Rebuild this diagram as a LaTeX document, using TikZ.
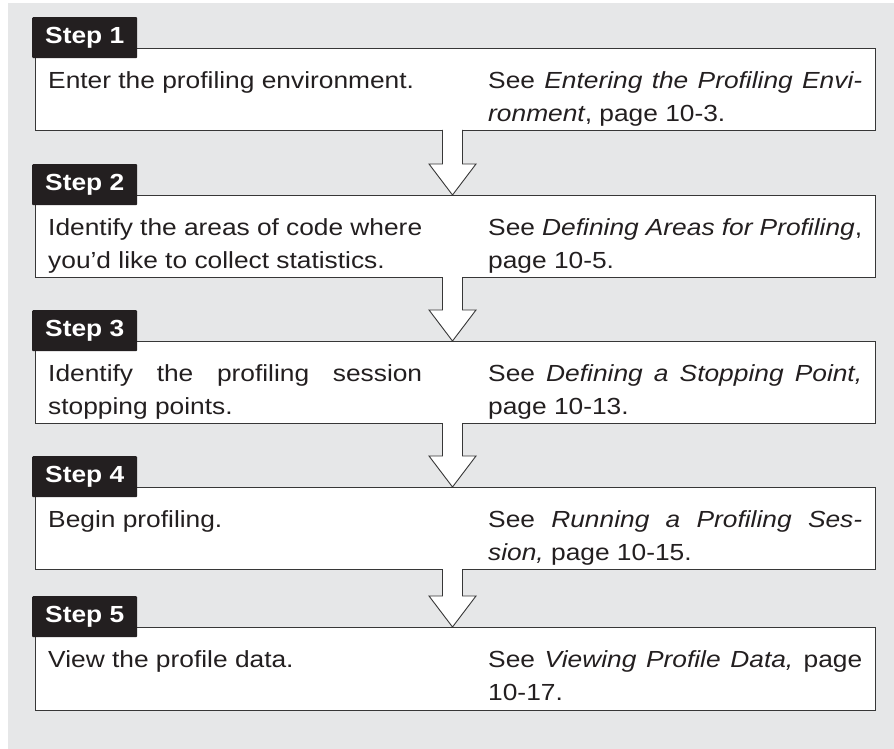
\documentclass[tikz,border=0pt]{standalone}
\usepackage{fontspec}
\setmainfont{Liberation Sans}[FakeStretch=1.13]
\usetikzlibrary{positioning,calc}

\definecolor{panelgray}{RGB}{230,231,232}
\definecolor{tabblack}{RGB}{35,31,32}
\definecolor{rulegray}{RGB}{55,55,55}

\begin{document}
\begin{tikzpicture}[
  x=1pt,y=1pt,
  font=\fontsize{23.3}{33}\selectfont,text=tabblack,
  stepbox/.style={draw=rulegray,line width=0.9pt,fill=white,minimum width=840pt,minimum height=82pt,inner sep=0pt,outer sep=0pt},
  steptab/.style={fill=tabblack,text=white,font=\fontsize{23.3}{33}\selectfont\bfseries,minimum width=105pt,minimum height=41pt,inner sep=0pt,rounded corners=1pt,anchor=north west},
  coltext/.style={anchor=north west,inner sep=0pt,
    execute at begin node={\begin{minipage}[t]{374pt}},
    execute at end node={\end{minipage}}},
  flowarr/.style={draw=rulegray,line width=0.9pt,fill=white,line join=miter},
]
\useasboundingbox (0,0) rectangle (894,-749);
\fill[panelgray] (8,-3) rectangle (894,-749);

% ===== the five step boxes =====
\node[stepbox,anchor=north west] (box1) at (35,-48) {};
\node[stepbox,below=65pt of box1] (box2) {};
\node[stepbox,below=64pt of box2] (box3) {};
\node[stepbox,below=64pt of box3] (box4) {};
\node[stepbox,below=58pt of box4,minimum height=83pt] (box5) {};

% hollow arrows between the boxes
\foreach \u/\v in {box1/box2,box2/box3,box3/box4,box4/box5}
  \draw[flowarr] let \p1=(\u.south), \p2=(\v.north) in
    (\x1-12.5pt,\y1) -- (\x1-12.5pt,\y2+31pt) -- (\x1-26pt,\y2+31pt) -- (\x1-2.5pt,\y2)
    -- (\x1+21pt,\y2+31pt) -- (\x1+7.5pt,\y2+31pt) -- (\x1+7.5pt,\y1);

% ===== step tabs =====
\node[steptab] (tab1) at ([xshift=-3pt,yshift=31pt]box1.north west) {Step 1};
\node[steptab] (tab2) at ([xshift=-3pt,yshift=31pt]box2.north west) {Step 2};
\node[steptab] (tab3) at ([xshift=-3pt,yshift=31pt]box3.north west) {Step 3};
\node[steptab] (tab4) at ([xshift=-3pt,yshift=31pt]box4.north west) {Step 4};
\node[steptab] (tab5) at ([xshift=-3pt,yshift=31pt]box5.north west) {Step 5};

% ===== what to do (left) and where to read (right) =====
\node[coltext] (what1) at ([xshift=13pt,yshift=-23pt]box1.north west) {Enter the profiling environment.};
\node[coltext] (see1) at ([xshift=453pt,yshift=-23pt]box1.north west)
  {See \textit{Entering the Profiling Envi-\linebreak ronment}, page 10-3.};

\node[coltext] (what2) at ([xshift=13pt,yshift=-23pt]box2.north west)
  {Identify the areas of code where\linebreak you’d like to collect statistics.};
\node[coltext] (see2) at ([xshift=453pt,yshift=-23pt]box2.north west)
  {See \textit{Defining Areas for Profiling},\linebreak page 10-5.};

\node[coltext] (what3) at ([xshift=13pt,yshift=-23pt]box3.north west)
  {Identify the profiling session\linebreak stopping points.};
\node[coltext] (see3) at ([xshift=453pt,yshift=-23pt]box3.north west)
  {See \textit{Defining a Stopping Point,}\linebreak page 10-13.};

\node[coltext] (what4) at ([xshift=13pt,yshift=-23pt]box4.north west) {Begin profiling.};
\node[coltext] (see4) at ([xshift=453pt,yshift=-23pt]box4.north west)
  {See \textit{Running a Profiling Ses-\linebreak sion,} page 10-15.};

\node[coltext] (what5) at ([xshift=13pt,yshift=-23pt]box5.north west) {View the profile data.};
\node[coltext] (see5) at ([xshift=453pt,yshift=-23pt]box5.north west)
  {See \textit{Viewing Profile Data,} page\linebreak 10-17.};
\end{tikzpicture}
\end{document}
